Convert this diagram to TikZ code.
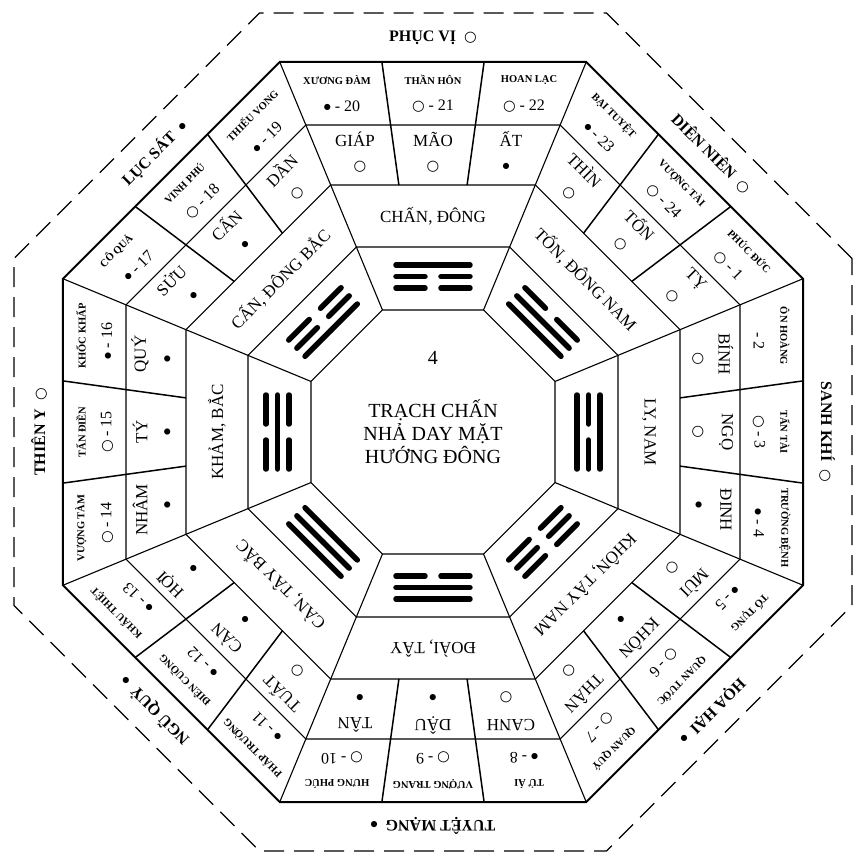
\documentclass[tikz,border=0pt]{standalone}
\usepackage{fontspec}
\setmainfont{Liberation Serif}
\newfontfamily\symfont{DejaVu Sans}
\newcommand{\hol}{{\symfont\fontsize{14.5}{14.5}\selectfont ○}}
\newcommand{\ful}{\raisebox{2.2pt}{\symfont\fontsize{8}{8}\selectfont ●}}
\tikzset{
  ringline/.style={line width=1.1pt},
  cutline/.style={line width=1.5pt},
  gualine/.style={line width=5.5pt,line cap=round},
  dirtxt/.style={font=\fontsize{17}{17}\selectfont},
  mttxt/.style={font=\fontsize{17}{17}\selectfont},
  startxt/.style={font=\bfseries\fontsize{10.5}{10.5}\selectfont},
  numtxt/.style={font=\fontsize{16}{16}\selectfont},
  outtxt/.style={font=\bfseries\fontsize{16}{16}\selectfont},
  midtxt/.style={font=\fontsize{20}{23}\selectfont}
}
\begin{document}
\begin{tikzpicture}[x=1pt,y=1pt,every node/.style={inner sep=0pt}]
\useasboundingbox (-433,-422) rectangle (421,432);
% rings
\foreach \a in {122,185,247,307}
  \draw[ringline] (22.5:\a*1.0824) \foreach \i in {1,...,7}{ -- (22.5+45*\i:\a*1.0824)} -- cycle;
\draw[line width=2pt] (22.5:400.5) \foreach \i in {1,...,7}{ -- (22.5+45*\i:400.5)} -- cycle;
\draw[line width=1.2pt,dash pattern=on 20pt off 10pt] (22.5:453.5) \foreach \i in {1,...,7}{ -- (22.5+45*\i:453.5)} -- cycle;
% corner and cell cuts
\foreach \k in {0,...,7}{
  \draw[ringline] (22.5+45*\k:132.05) -- (22.5+45*\k:400.5);
  \begin{scope}[rotate=-45*\k]
    \draw[cutline] (-34.1,247) -- (-51.1,370);
    \draw[cutline] (34.1,247) -- (51.1,370);
  \end{scope}
}
% centre
\node[midtxt] (num) at (0,74) {4};
\node[midtxt,align=center] (title) at (0,0) {TRẠCH CHẤN\\NHẢ DAY MẶT\\HƯỚNG ĐÔNG};
% directions and trigrams (outer/middle/inner gap)
\foreach \k/\dir/\ga/\gb/\gc in {0/{CHẤN, ĐÔNG}/0/8/8,1/{TỐN, ĐÔNG NAM}/8/0/0,2/{LY, NAM}/0/8/0,
    3/{KHÔN, TÂY NAM}/8/8/8,4/{ĐOÀI, TÂY}/0/0/8,5/{CÀN, TÂY BẮC}/0/0/0,
    6/{KHẢM, BẮC}/8/0/8,7/{CẤN, ĐÔNG BẮC}/8/8/0}{
  \begin{scope}[rotate=-45*\k,every node/.append style={transform shape}]
    \node[dirtxt] (dir\k) at (0,216) {\dir};
    \foreach \g/\r in {\ga/167,\gb/155.5,\gc/144}{
      \draw[gualine] (-37,\r) -- (-\g,\r);
      \draw[gualine] (\g,\r) -- (37,\r);
    }
  \end{scope}
}
% 24 mountains
\foreach \k/\ma/\pa/\mb/\pb/\mc/\pc in {0/GIÁP/\hol/MÃO/\hol/ẤT/\ful,1/THÌN/\hol/TỐN/\hol/TỴ/\hol,
    2/BÍNH/\hol/NGỌ/\hol/ĐINH/\ful,3/MÙI/\hol/KHÔN/\ful/THÂN/\hol,
    4/CANH/\hol/DẬU/\ful/TÂN/\ful,5/TUẤT/\hol/CÀN/\ful/HỢI/\ful,
    6/NHÂM/\ful/TÝ/\ful/QUÝ/\ful,7/SỬU/\ful/CẤN/\ful/DẦN/\hol}{
  \begin{scope}[rotate=-45*\k,every node/.append style={transform shape}]
    \node[mttxt] (mta\k) at (-78,293) {\ma};
    \node[mttxt] (mtb\k) at (0,293) {\mb};
    \node[mttxt] (mtc\k) at (78,293) {\mc};
    \node (mka\k) at (-73,265) {\pa};
    \node (mkb\k) at (0,265) {\pb};
    \node (mkc\k) at (73,265) {\pc};
  \end{scope}
}
% stars
\foreach \k/\sa/\na/\sb/\nb/\sc/\nc in {0/XƯƠNG ĐÀM/\ful{} - 20/THẦN HÔN/\hol{} - 21/HOAN LẠC/\hol{} - 22,
    1/BẠI TUYỆT/\ful{} - 23/VƯỢNG TÀI/\hol{} - 24/PHÚC ĐỨC/\hol{} - 1,
    2/ÔN HOÀNG/- 2/TẤN TÀI/\hol{} - 3/TRƯỜNG BỆNH/\ful{} - 4,
    3/TỐ TỤNG/\ful{} - 5/QUAN TƯỚC/\hol{} - 6/QUAN QUÝ/\hol{} - 7,
    4/TỬ ÁI/\ful{} - 8/VƯỢNG TRANG/\hol{} - 9/HƯNG PHÚC/\hol{} - 10,
    5/PHÁP TRƯỜNG/\ful{} - 11/ĐIÊN CUỒNG/\ful{} - 12/KHẨU THIỆT/\ful{} - 13,
    6/VƯỢNG TÀM/\hol{} - 14/TẤN ĐIỀN/\hol{} - 15/KHỐC KHẤP/\ful{} - 16,
    7/CÔ QUẢ/\ful{} - 17/VINH PHÚ/\hol{} - 18/THIẾU VONG/\ful{} - 19}{
  \begin{scope}[rotate=-45*\k,every node/.append style={transform shape}]
    \node[startxt] (sta\k) at (-96,352) {\sa};
    \node[startxt] (stb\k) at (0,352) {\sb};
    \node[startxt] (stc\k) at (96,352) {\sc};
    \node[numtxt] (nra\k) at (-91,326) {\na};
    \node[numtxt] (nrb\k) at (0,326) {\nb};
    \node[numtxt] (nrc\k) at (91,326) {\nc};
  \end{scope}
}
% outer ring
\foreach \k/\lab in {0/PHỤC VỊ\enspace\hol,1/DIÊN NIÊN\enspace\hol,2/SANH KHÍ\enspace\hol,
    3/HỌA HẠI\enspace\ful,4/TUYỆT MẠNG\enspace\ful,5/NGŨ QUỶ\enspace\ful,
    6/THIÊN Y\enspace\hol,7/LỤC SÁT\enspace\ful}
  \node[outtxt,rotate=-45*\k] (out\k) at (90-45*\k:394) {\lab};
\end{tikzpicture}
\end{document}
